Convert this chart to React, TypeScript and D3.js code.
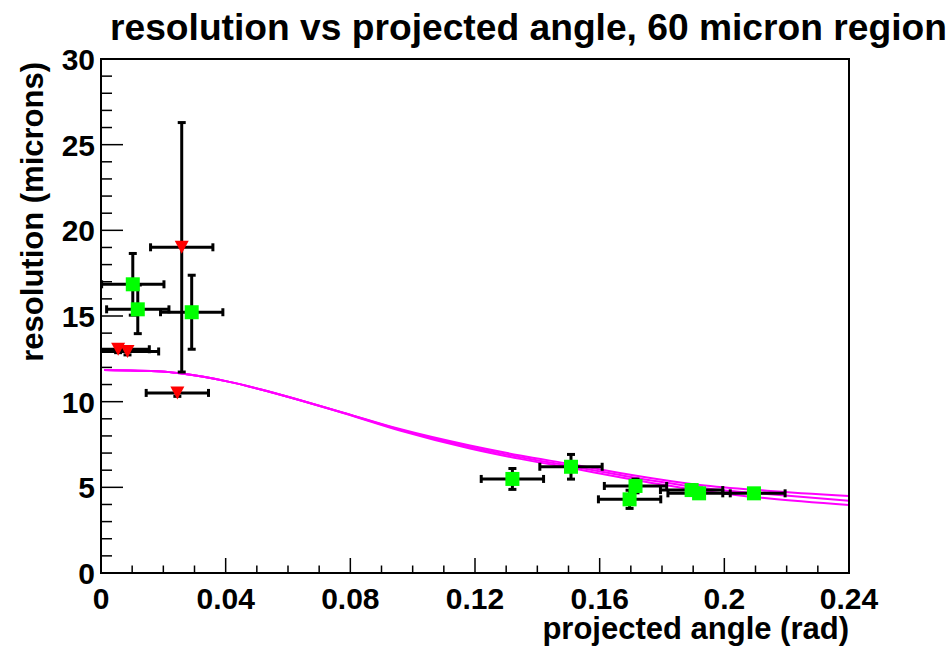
import React from "react";
import * as d3 from "d3";

// Measured points: projected angle (rad) vs resolution (microns)
const greenX = [0.0102, 0.0118, 0.0291, 0.132, 0.1508, 0.1715, 0.1696, 0.1895, 0.1919, 0.2095];
const greenY = [16.85, 15.39, 15.22, 5.49, 6.2, 5.08, 4.3, 4.84, 4.65, 4.65];
const greenXErr = [0.01, 0.01, 0.01, 0.01, 0.01, 0.01, 0.01, 0.01, 0.01, 0.01];
const greenYErr = [1.8, 1.42, 2.16, 0.61, 0.72, 0.4, 0.53, 0.3, 0.3, 0.25];

const redX = [0.0259, 0.0055, 0.0085, 0.0245];
const redY = [19.01, 13.06, 12.93, 10.51];
const redXErr = [0.01, 0.01, 0.01, 0.01];
const redYErr = [7.28, 0.2, 0.2, 0.2];

// Fitted resolution curves
const curveX = [0.001, 0.0195, 0.0259, 0.0408, 0.0516, 0.0622, 0.0783, 0.0959, 0.1184, 0.1345, 0.1505, 0.1665, 0.1794, 0.1922, 0.2137, 0.24];
const curveUpper = [11.85, 11.76, 11.64, 11.17, 10.7, 10.17, 9.33, 8.4, 7.44, 6.86, 6.36, 5.84, 5.46, 5.14, 4.8, 4.49];
const curveMiddle = [11.85, 11.76, 11.64, 11.17, 10.7, 10.17, 9.32, 8.36, 7.36, 6.76, 6.25, 5.72, 5.32, 4.98, 4.61, 4.22];
const curveLower = [11.85, 11.76, 11.64, 11.17, 10.7, 10.17, 9.31, 8.32, 7.27, 6.66, 6.14, 5.59, 5.18, 4.82, 4.36, 3.97];

const xTicks = [0, 0.04, 0.08, 0.12, 0.16, 0.2, 0.24];
const xTickLabels = ["0", "0.04", "0.08", "0.12", "0.16", "0.2", "0.24"];
const yTicks = [0, 5, 10, 15, 20, 25, 30];

const W = 951;
const H = 650;
const left = 101;
const right = 849;
const top = 59;
const bottom = 573;
const FONT = "'Liberation Sans', Arial, Helvetica, sans-serif";

export default function App() {
  const x = d3.scaleLinear().domain([0, 0.24]).range([left, right]);
  const y = d3.scaleLinear().domain([0, 30]).range([bottom, top]);

  const xMinor = d3.range(0, 0.2401, 0.01).map((v) => +v.toFixed(3));
  const yMinor = d3.range(0, 30.01, 1);

  const line = d3
    .line<number>()
    .x((_, i) => x(curveX[i]))
    .y((d) => y(d))
    .curve(d3.curveMonotoneX);

  const cap = 4;

  const errorBars = (xs: number[], ys: number[], xe: number[], ye: number[], key: string) =>
    xs.map((xv, i) => {
      const cx = x(xv);
      const cy = y(ys[i]);
      const x0 = x(xv - xe[i]);
      const x1 = x(xv + xe[i]);
      const y0 = y(ys[i] - ye[i]);
      const y1 = y(ys[i] + ye[i]);
      return (
        <g key={key + i} stroke="#000" strokeWidth={3}>
          <line x1={x0} x2={x1} y1={cy} y2={cy} />
          <line x1={x0} x2={x0} y1={cy - cap} y2={cy + cap} />
          <line x1={x1} x2={x1} y1={cy - cap} y2={cy + cap} />
          <line x1={cx} x2={cx} y1={y0} y2={y1} />
          <line x1={cx - cap} x2={cx + cap} y1={y0} y2={y0} />
          <line x1={cx - cap} x2={cx + cap} y1={y1} y2={y1} />
        </g>
      );
    });

  const sq = 14;
  const tri = (cx: number, cy: number) => {
    const w = 14;
    const h = 13;
    return `M${cx - w / 2},${cy - h / 2}L${cx + w / 2},${cy - h / 2}L${cx},${cy + h / 2}Z`;
  };

  return (
    <svg
      width={W}
      height={H}
      style={{ position: "absolute", left: 0, top: 0, background: "#fff" }}
      fontFamily={FONT}
    >
      <rect x={0} y={0} width={W} height={H} fill="#fff" />
      <defs>
        <clipPath id="plotClip">
          <rect x={left} y={top} width={right - left} height={bottom - top} />
        </clipPath>
      </defs>

      {/* title */}
      <text x={110} y={40} fontSize={37.2} fontWeight="bold" fill="#000">
        resolution vs projected angle, 60 micron region
      </text>

      <g clipPath="url(#plotClip)">
        {/* fit curves */}
        {[curveUpper, curveMiddle, curveLower].map((c, i) => (
          <path key={"c" + i} d={line(c) ?? ""} fill="none" stroke="#ff00ff" strokeWidth={2} />
        ))}
        {errorBars(redX, redY, redXErr, redYErr, "re")}
        {errorBars(greenX, greenY, greenXErr, greenYErr, "ge")}
        {redX.map((xv, i) => (
          <path key={"r" + i} d={tri(x(xv), y(redY[i]))} fill="#ff0000" />
        ))}
        {greenX.map((xv, i) => (
          <rect
            key={"g" + i}
            x={x(xv) - sq / 2}
            y={y(greenY[i]) - sq / 2}
            width={sq}
            height={sq}
            fill="#00ff00"
          />
        ))}
      </g>

      {/* ticks */}
      <g stroke="#000" strokeWidth={1.5}>
        {xMinor.map((v, i) => {
          const major = i % 4 === 0;
          return (
            <line key={"xt" + i} x1={x(v)} x2={x(v)} y1={bottom} y2={bottom - (major ? 15 : 7.5)} />
          );
        })}
        {yMinor.map((v, i) => {
          const major = i % 5 === 0;
          return (
            <line key={"yt" + i} x1={left} x2={left + (major ? 22 : 11)} y1={y(v)} y2={y(v)} />
          );
        })}
      </g>

      {/* frame */}
      <rect
        x={left}
        y={top}
        width={right - left}
        height={bottom - top}
        fill="none"
        stroke="#000"
        strokeWidth={2}
      />

      {/* tick labels */}
      {xTicks.map((v, i) => (
        <text
          key={"xl" + i}
          x={x(v)}
          y={609}
          fontSize={30}
          fontWeight="bold"
          textAnchor="middle"
        >
          {xTickLabels[i]}
        </text>
      ))}
      {yTicks.map((v, i) => (
        <text
          key={"yl" + i}
          x={95}
          y={y(v) + 11}
          fontSize={30}
          fontWeight="bold"
          textAnchor="end"
        >
          {v}
        </text>
      ))}

      {/* axis titles */}
      <text x={right} y={639} fontSize={31} fontWeight="bold" textAnchor="end">
        projected angle (rad)
      </text>
      <text
        transform={`translate(43,${top + 3}) rotate(-90)`}
        fontSize={31}
        fontWeight="bold"
        textAnchor="end"
      >
        resolution (microns)
      </text>
    </svg>
  );
}
